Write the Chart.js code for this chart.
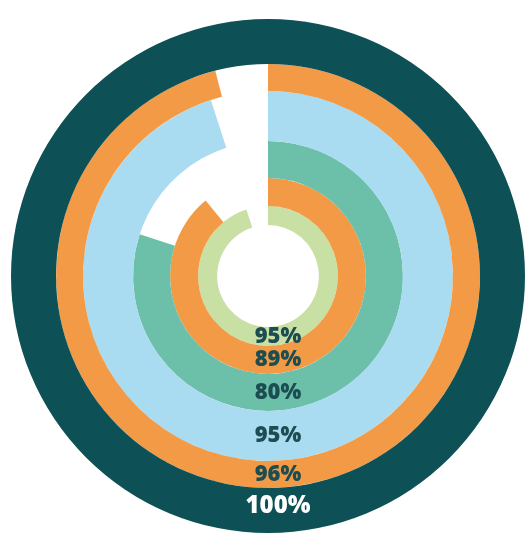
<!DOCTYPE html>
<html>
<head>
<meta charset="utf-8">
<script src="https://cdn.jsdelivr.net/npm/chart.js@4/dist/chart.umd.min.js"></script>
<style>
  html, body { margin: 0; padding: 0; background: #fff; }
  #wrap { width: 530px; height: 536px; }
</style>
</head>
<body>
<div id="wrap"><canvas id="rings"></canvas></div>
<script>
// rings from outside to inside
const ringValues = [100, 96, 95, 80, 89, 95];
const ringColors = ['#0d5156', '#f29a45', '#a9dbf1', '#6cc0a9', '#f29a45', '#c8e0a4'];
const ringWeights = [45, 27, 50, 37, 28, 19];
const labelColors = ['#ffffff', '#1c4d52', '#1c4d52', '#1c4d52', '#1c4d52', '#1c4d52'];

const datasets = ringValues.map((v, i) => ({
    data: [v, 100 - v],
    backgroundColor: [ringColors[i], 'rgba(0,0,0,0)'],
    borderWidth: 0,
    weight: ringWeights[i]
}));

// value labels stacked at the bottom of every ring
const ringLabels = {
    id: 'ringLabels',
    afterDatasetsDraw(chart) {
        const ctx = chart.ctx;
        ctx.save();
        ctx.textAlign = 'center';
        ctx.textBaseline = 'middle';
        chart.data.datasets.forEach((ds, i) => {
            const arc = chart.getDatasetMeta(i).data[0];
            const r = (arc.innerRadius + arc.outerRadius) / 2;
            ctx.font = (i === 0 ? '800 24px' : '800 22px') + ' "Open Sans", sans-serif';
            ctx.fillStyle = labelColors[i];
            ctx.fillText(ringValues[i] + '%', arc.x + 10, arc.y + r - (i === 0 ? 4 : 0));
        });
        ctx.restore();
    }
};

new Chart(document.getElementById('rings'), {
    type: 'doughnut',
    data: { labels: ['value', 'rest'], datasets },
    options: {
        responsive: true,
        maintainAspectRatio: false,
        animation: false,
        cutout: '19.8%',
        layout: { padding: { left: 11, right: 5, top: 19, bottom: 3 } },
        plugins: { legend: { display: false }, tooltip: { enabled: false } }
    },
    plugins: [ringLabels]
});
</script>
</body>
</html>
